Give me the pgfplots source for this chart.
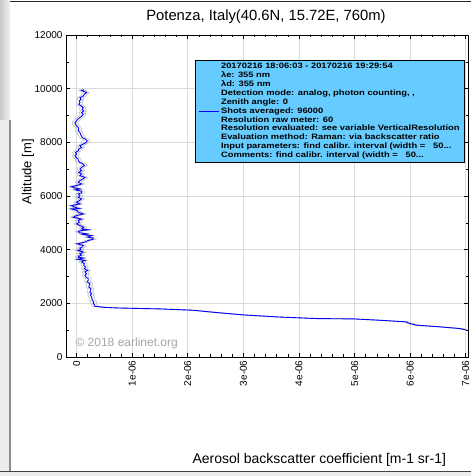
\documentclass[border=0pt]{standalone}
\usepackage{fontspec}
\setmainfont{Liberation Sans}
\newfontfamily\legfont{Liberation Sans}[FakeStretch=1.2]
\usepackage{pgfplots}
\usepackage{pgfplotstable}
\pgfplotsset{compat=1.18}
\definecolor{legcyan}{RGB}{102,204,255}
\definecolor{gridgrey}{RGB}{218,218,218}
\definecolor{bandgrey}{RGB}{190,190,190}
\definecolor{wmgrey}{RGB}{165,165,165}

\newcommand{\legtext}{\begin{tabular}{@{}l@{}}
20170216 18:06:03 - 20170216 19:29:54\\
λe: 355 nm\\
λd: 355 nm\\
Detection mode: analog, photon counting, ,\\
Zenith angle: 0\\
Shots averaged: 96000\\
Resolution raw meter: 60\\
Resolution evaluated: see variable VerticalResolution\\
Evaluation method: Raman: via backscatter ratio\\
Input parameters: find calibr. interval (width =\ \ \ 50...\\
Comments: find calibr. interval (width =\ \ \ 50...
\end{tabular}}

% backscatter profile, x in units of 1e-06 m-1 sr-1
\pgfplotstableread{
alt b err
1010 7.00 0.05
1061 6.89 0.05
1130 6.50 0.05
1185 6.12 0.05
1250 5.99 0.05
1309 5.93 0.05
1370 5.45 0.05
1420 4.98 0.05
1432 4.32 0.05
1494 3.60 0.05
1569 3.00 0.05
1650 2.55 0.05
1742 2.10 0.05
1792 1.50 0.05
1810 1.10 0.05
1829 0.72 0.05
1850 0.50 0.05
1891 0.33 0.05
1952 0.32 0.05
1990 0.30 0.05
2050 0.31 0.05
2120 0.28 0.05
2175 0.28 0.05
2240 0.27 0.05
2300 0.25 0.05
2360 0.27 0.05
2420 0.24 0.05
2480 0.25 0.05
2547 0.26 0.05
2600 0.22 0.05
2680 0.23 0.05
2733 0.24 0.05
2800 0.19 0.05
2860 0.21 0.05
2918 0.21 0.05
2980 0.17 0.05
3042 0.15 0.05
3100 0.18 0.05
3170 0.15 0.05
3228 0.20 0.05
3290 0.14 0.05
3352 0.16 0.05
3420 0.13 0.05
3476 0.14 0.05
3540 0.09 0.05
3599 0.15 0.05
3640 0.02 0.05
3686 0.12 0.05
3720 0.03 0.05
3748 0.03 0.05
3800 0.09 0.05
3847 0.06 0.05
3909 0.12 0.05
3971 0.03 0.05
4010 0.08 0.05
4057 0.06 0.05
4100 0.10 0.05
4157 0.12 0.05
4218 0.01 0.05
4280 0.15 0.05
4342 0.21 0.05
4390 0.30 0.05
4429 0.30 0.05
4470 0.20 0.05
4528 0.27 0.05
4560 0.12 0.05
4590 0.18 0.05
4630 0.05 0.05
4677 0.03 0.05
4710 0.08 0.05
4739 0.21 0.05
4776 0.09 0.05
4837 0.13 0.05
4900 0.06 0.05
4961 0.00 0.05
5020 0.05 0.05
5085 0.03 0.05
5140 0.09 0.05
5208 -0.06 0.05
5271 0.00 0.05
5332 0.12 0.05
5395 0.03 0.05
5456 0.01 0.05
5519 -0.09 0.05
5530 0.05 0.05
5580 -0.03 0.05
5643 -0.09 0.05
5704 0.06 0.05
5766 0.00 0.05
5828 0.05 0.05
5890 0.09 0.05
5952 0.03 0.05
6013 0.06 0.05
6076 0.03 0.05
6120 0.09 0.05
6175 0.09 0.05
6230 -0.02 0.05
6262 0.06 0.05
6310 -0.05 0.05
6348 -0.09 0.05
6400 0.02 0.05
6447 0.09 0.05
6510 0.03 0.05
6571 0.06 0.05
6640 0.12 0.05
6695 0.15 0.05
6760 0.06 0.05
6819 0.09 0.05
6880 0.04 0.05
6943 0.09 0.05
7004 0.06 0.05
7066 0.09 0.05
7130 0.14 0.05
7190 0.12 0.05
7250 0.06 0.05
7314 0.03 0.05
7376 0.03 0.05
7438 -0.01 0.05
7499 -0.03 0.05
7562 0.00 0.05
7620 -0.02 0.05
7686 0.03 0.05
7750 0.04 0.05
7809 0.09 0.05
7871 0.06 0.05
7933 0.12 0.05
8007 0.18 0.05
8060 0.19 0.05
8119 0.16 0.05
8180 0.10 0.05
8242 0.09 0.05
8300 0.07 0.05
8367 0.06 0.05
8428 0.03 0.05
8490 0.04 0.05
8552 0.03 0.05
8614 0.00 0.05
8680 -0.02 0.05
8738 -0.03 0.05
8800 0.00 0.05
8860 0.02 0.05
8923 0.06 0.05
8990 0.10 0.05
9050 0.12 0.05
9110 0.09 0.05
9171 0.13 0.05
9230 0.10 0.05
9295 0.12 0.05
9360 0.08 0.05
9420 0.04 0.05
9480 0.06 0.05
9543 0.05 0.05
9600 0.08 0.05
9660 0.06 0.05
9728 0.12 0.05
9790 0.14 0.05
9852 0.18 0.05
9900 0.13 0.05
9939 0.09 0.05
9960 0.13 0.05
}\profile

\begin{document}
\begin{tikzpicture}
\useasboundingbox (0pt,0pt) rectangle (471pt,476pt);
\fill[white] (0pt,0pt) rectangle (471pt,476pt);
% screenshot frame around the chart
\shade[left color=black!22, right color=black!5] (0pt,356pt) rectangle (10pt,476pt);
\fill[black!7] (0pt,0pt) rectangle (10pt,356pt);
\draw[black!45, line width=1.2pt] (10pt,5pt) -- (10pt,356pt);
\fill[black!7] (0pt,0pt) rectangle (471pt,4pt);
\draw[black!75, line width=1pt] (0pt,4.5pt) -- (471pt,4.5pt);
\draw[black!85, line width=1pt] (10pt,474.5pt) -- (471pt,474.5pt);

\begin{axis}[
    at={(66pt,119pt)}, anchor=south west,
    scale only axis,
    width=402pt, height=322pt,
    xmin=-0.19, xmax=7.04,
    ymin=0, ymax=12000,
    xtick={0,1,2,3,4,5,6,7},
    xticklabels={0,1e-06,2e-06,3e-06,4e-06,5e-06,6e-06,7e-06},
    ytick={0,2000,4000,6000,8000,10000,12000},
    minor x tick num=4,
    minor y tick num=1,
    scaled ticks=false,
    /pgf/number format/assume math mode=true,
    /pgf/number format/1000 sep={},
    xmajorgrids, ymajorgrids,
    major grid style={gridgrey, line width=0.9pt},
    tick align=inside,
    major tick length=4pt,
    minor tick length=2.5pt,
    every tick/.style={black, line width=0.6pt},
    axis line style={line width=0.8pt},
    xticklabel style={rotate=90, anchor=east, font=\fontsize{10}{12}\selectfont},
    yticklabel style={font=\fontsize{10}{12}\selectfont},
    title={Potenza, Italy(40.6N, 15.72E, 760m)},
    title style={font=\fontsize{14.8}{16}\selectfont, at={(axis description cs:0.4975,1)}, anchor=base, yshift=8pt},
    xlabel={Aerosol backscatter coefficient [m-1 sr-1]},
    xlabel style={font=\fontsize{14}{16}\selectfont, at={(axis description cs:0.63,-0.32)}, anchor=center},
    ylabel={Altitude [m]},
    ylabel style={font=\fontsize{13}{15}\selectfont, at={(axis description cs:-0.0945,0.575)}, anchor=center},
    legend style={
        at={(0.9925,0.922)}, anchor=north east,
        fill=legcyan, draw=black, line width=0.7pt,
        font=\legfont\fontsize{7.8}{8.9}\selectfont\bfseries,
        nodes={inner sep=2pt, text depth=},
        inner xsep=3pt, inner ysep=0pt,
        legend cell align=left,
    },
    legend image code/.code={\draw[#1] (0pt,0pt) -- (20pt,0pt);},
]

% uncertainty band
\addplot[bandgrey, line width=0.6pt, forget plot] table[x expr=\thisrow{b}-\thisrow{err}, y=alt] {\profile};
\addplot[bandgrey, line width=0.6pt, forget plot] table[x expr=\thisrow{b}+\thisrow{err}, y=alt] {\profile};

% profile
\addplot[blue, line width=0.9pt] table[x=b, y=alt] {\profile};
\addlegendentry{\legtext}

\node[anchor=west, text=wmgrey, font=\fontsize{12}{14}\selectfont]
    at (axis description cs:0.015,0.0435) {© 2018 earlinet.org};
\end{axis}
\end{tikzpicture}
\end{document}
